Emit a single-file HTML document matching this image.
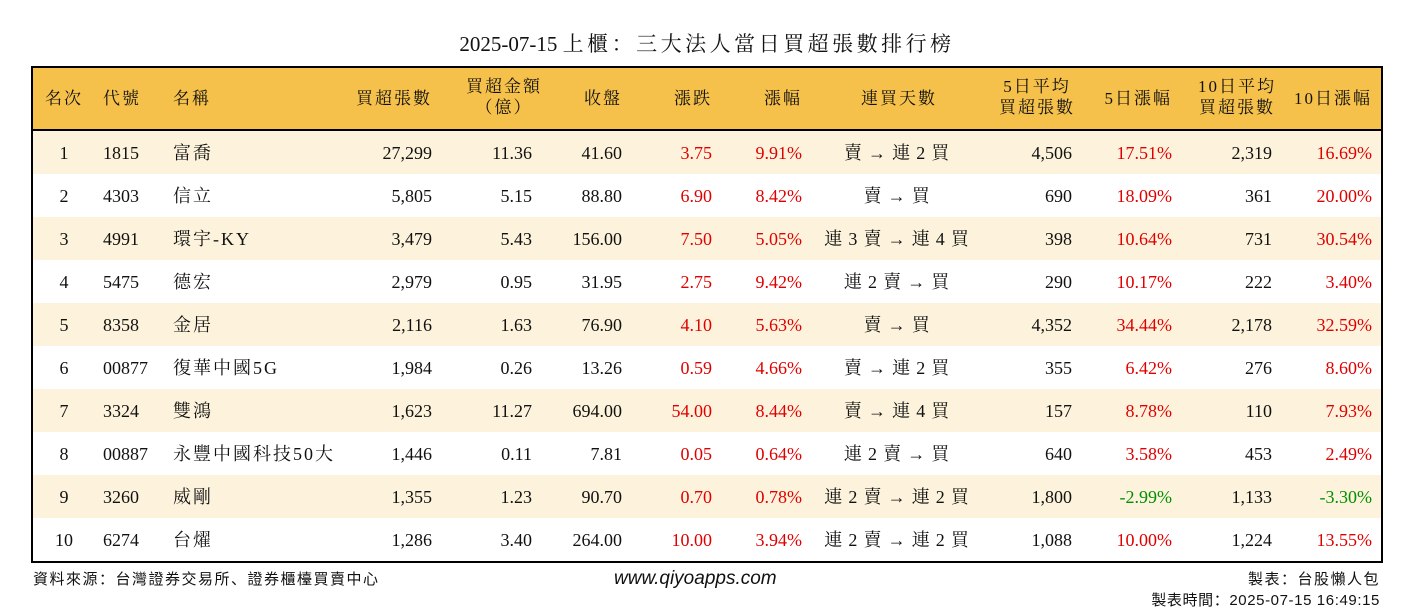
<!DOCTYPE html>
<html><head><meta charset="utf-8">
<style>
body{margin:0;width:1414px;height:612px;background:#fff;position:relative;overflow:hidden;font-family:"Liberation Serif","Noto Serif CJK SC",serif;color:#111}
#title{position:absolute;left:0;width:1414px;top:28px;text-align:center;font-size:21px}
#title span{letter-spacing:3.5px}
#tbl{position:absolute;left:31px;top:66px;width:1348px;height:493px;border:2px solid #000;overflow:hidden}
#hdr{position:absolute;left:0;top:0;width:100%;height:61px;background:#F6C14B;border-bottom:2px solid #000}
.c{position:absolute;font-size:18px;white-space:nowrap;line-height:22px}
.cjk{letter-spacing:2px}
.stk{letter-spacing:0.8px}
.row{position:absolute;left:0;width:100%;height:43px}
.foot{position:absolute;font-family:"Liberation Sans","Noto Sans CJK SC",sans-serif;font-size:15px;letter-spacing:1.5px}
</style></head><body>
<div id="title">2025-07-15 <span>上櫃：三大法人當日買超張數排行榜</span></div>
<div id="tbl"><div id="hdr"></div></div>
<div class="foot" style="left:33px;top:568px">資料來源：台灣證券交易所、證券櫃檯買賣中心</div>
<div class="foot" style="left:614px;top:568px;font-size:19px;font-style:italic;letter-spacing:0">www.qiyoapps.com</div>
<div class="foot" style="right:34px;top:568px">製表：台股懶人包</div>
<div class="foot" style="right:34px;top:589px;letter-spacing:0.6px">製表時間：2025-07-15 16:49:15</div>
<script>
const ranks=[1,2,3,4,5,6,7,8,9,10];
const codes=["1815","4303","4991","5475","8358","00877","3324","00887","3260","6274"];
const names=["富喬","信立","環宇-KY","德宏","金居","復華中國5G","雙鴻","永豐中國科技50大","威剛","台燿"];
const buyLots=["27,299","5,805","3,479","2,979","2,116","1,984","1,623","1,446","1,355","1,286"];
const buyAmt=["11.36","5.15","5.43","0.95","1.63","0.26","11.27","0.11","1.23","3.40"];
const closes=["41.60","88.80","156.00","31.95","76.90","13.26","694.00","7.81","90.70","264.00"];
const changes=["3.75","6.90","7.50","2.75","4.10","0.59","54.00","0.05","0.70","10.00"];
const pcts=["9.91%","8.42%","5.05%","9.42%","5.63%","4.66%","8.44%","0.64%","0.78%","3.94%"];
const streaks=["賣 → 連 2 買","賣 → 買","連 3 賣 → 連 4 買","連 2 賣 → 買","賣 → 買","賣 → 連 2 買","賣 → 連 4 買","連 2 賣 → 買","連 2 賣 → 連 2 買","連 2 賣 → 連 2 買"];
const avg5=["4,506","690","398","290","4,352","355","157","640","1,800","1,088"];
const pct5=["17.51%","18.09%","10.64%","10.17%","34.44%","6.42%","8.78%","3.58%","-2.99%","10.00%"];
const avg10=["2,319","361","731","222","2,178","276","110","453","1,133","1,224"];
const pct10=["16.69%","20.00%","30.54%","3.40%","32.59%","8.60%","7.93%","2.49%","-3.30%","13.55%"];
const headers=["名次","代號","名稱","買超張數","買超金額<br>（億）","收盤","漲跌","漲幅","連買天數","5日平均<br>買超張數","5日漲幅","10日平均<br>買超張數","10日漲幅"];
const tbl=document.getElementById('tbl'),hdr=document.getElementById('hdr');
const cols=[[31,'c'],[70,'l'],[140,'l'],[399,'r'],[499,'r'],[589,'r'],[679,'r'],[769,'r'],[864,'c'],[1039,'r'],[1139,'r'],[1239,'r'],[1339,'r']];
const hdrAlign=['c','l','l','r','c','r','r','r','c','c','r','c','r'];
const hdrCenters=[31,70,140,399,471,589,679,769,866,1004,1139,1204,1339];
function place(parent,html,x,al,top,color,name){
  const d=document.createElement('div');d.className='c';d.innerHTML=html;
  
  
  d.style.top=top+'px';if(color)d.style.color=color;
  if(al==='l')d.style.left=x+'px';
  else if(al==='r')d.style.right=(1348-x)+'px';
  else{d.style.left=(x-150)+'px';d.style.width='300px';d.style.textAlign='center';}
  parent.appendChild(d);return d;
}
headers.forEach((h,i)=>{
  const two=h.includes('<br>');
  const d=place(hdr,h,hdrCenters[i],hdrAlign[i],two?8:20,null,'header-cell');
  d.classList.add('cjk');
  d.style.fontSize='17px';if(two){d.style.lineHeight='21px';d.style.textAlign='center';}
});
const col=v=>v.startsWith('-')?'#009000':'#e00000';
ranks.forEach((r,i)=>{
  const row=document.createElement('div');row.className='row';
  
  
  row.style.top=(63+i*43)+'px';row.style.background=i%2===0?'#FDF3DC':'#fff';
  tbl.appendChild(row);
  const vals=[r,codes[i],names[i],buyLots[i],buyAmt[i],closes[i],changes[i],pcts[i],streaks[i],avg5[i],pct5[i],avg10[i],pct10[i]];
  vals.forEach((v,j)=>{
    let c=null;if(j===6||j===7)c='#e00000';if(j===10||j===12)c=col(v);
    const d=place(row,v,cols[j][0],cols[j][1],11,c,'cell');
    if(j===2)d.classList.add('cjk');
    if(j===8)d.classList.add('stk');
  });
});
</script>
</body></html>
